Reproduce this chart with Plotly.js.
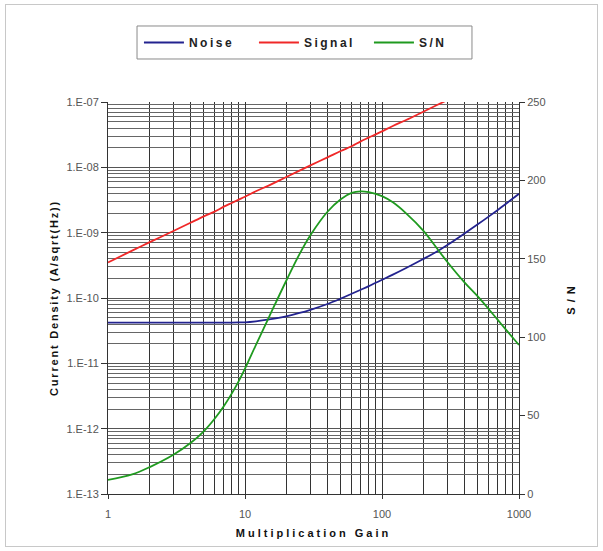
<!DOCTYPE html>
<html>
<head>
<meta charset="utf-8">
<script src="https://cdn.plot.ly/plotly-3.0.1.min.js"></script>
<style>
  body { margin: 0; background: #fff; }
  #wrap { position: relative; width: 603px; height: 551px; }
  #chart { position: absolute; left: 0; top: 0; width: 603px; height: 551px; }
  #frame { position: absolute; left: 5px; top: 4px; width: 591px; height: 541px; border: 1px solid #c8c8c8; pointer-events: none; }
  .legendtext { letter-spacing: 2.5px; }
  .xtitle { letter-spacing: 3px; }
  .ytitle { letter-spacing: 1.8px; }
  .y2title { letter-spacing: 5px; }
</style>
</head>
<body>
<div id="wrap">
  <div id="chart"></div>
  <div id="frame"></div>
</div>
<script>
// Multiplication gain (x)
const gain = [1, 1.5, 2, 3, 4, 5, 6, 7, 8, 9, 10, 12, 15, 20, 25, 30, 40, 50, 60, 70, 80,
              100, 120, 150, 200, 250, 300, 400, 500, 600, 700, 800, 1000];

// Noise current density (A/sqrt(Hz))
const noise = [4.2e-11, 4.2e-11, 4.2e-11, 4.2e-11, 4.2e-11, 4.2e-11, 4.2e-11, 4.2e-11, 4.21e-11, 4.23e-11, 4.25e-11,
               4.4e-11, 4.7e-11, 5.25e-11, 5.9e-11, 6.6e-11, 8.1e-11, 9.8e-11, 1.16e-10, 1.34e-10, 1.52e-10,
               1.9e-10, 2.28e-10, 2.88e-10, 3.95e-10, 5.1e-10, 6.47e-10, 9.7e-10, 1.34e-9, 1.76e-9, 2.23e-9, 2.75e-9, 3.93e-9];

// Signal current density (A/sqrt(Hz))
const signal = [3.5e-10, 5.3e-10, 7.1e-10, 1.06e-9, 1.42e-9, 1.78e-9, 2.1e-9, 2.5e-9, 2.85e-9, 3.2e-9, 3.55e-9,
                4.3e-9, 5.3e-9, 7.1e-9, 8.9e-9, 1.07e-8, 1.42e-8, 1.78e-8, 2.1e-8, 2.5e-8, 2.85e-8,
                3.55e-8, 4.3e-8, 5.3e-8, 7.1e-8, 8.9e-8, 1.07e-7, null, null, null, null, null, null];

// Signal-to-noise ratio (right axis)
const snr = [9, 12.5, 17, 25, 32.5, 40, 48, 56, 64, 72, 80,
             95, 113, 136, 153, 165, 180, 188, 192, 193, 192.5,
             190, 186, 179, 168, 157, 148, 135, 126, 118, 111, 105, 95];

// Tick labels
const xTickVals = [1, 10, 100, 1000];
const xTickText = ["1", "10", "100", "1000"];
const yTickVals = [1e-13, 1e-12, 1e-11, 1e-10, 1e-9, 1e-8, 1e-7];
const yTickText = ["1.E-13", "1.E-12", "1.E-11", "1.E-10", "1.E-09", "1.E-08", "1.E-07"];
const y2TickVals = [0, 50, 100, 150, 200, 250];

// minor grid positions (2..9 within each decade)
function minorLog(lo, hi) {
  const out = [];
  for (let e = lo; e < hi; e++) for (let k = 2; k <= 9; k++) out.push(k * Math.pow(10, e));
  return out;
}

const FONT = "Liberation Sans, Arial, sans-serif";

const traces = [
  { x: gain, y: noise, name: "Noise", type: "scatter", mode: "lines",
    line: { color: "#23238f", width: 1.8, shape: "spline" } },
  { x: gain, y: signal, name: "Signal", type: "scatter", mode: "lines",
    line: { color: "#f02828", width: 1.8, shape: "spline" } },
  { x: gain, y: snr, name: "S/N", type: "scatter", mode: "lines", yaxis: "y2",
    line: { color: "#1f9a1f", width: 1.8, shape: "spline" } }
];

const layout = {
  width: 603, height: 551,
  margin: { l: 108, r: 84, t: 102, b: 57 },
  paper_bgcolor: "#ffffff", plot_bgcolor: "#ffffff",
  font: { family: FONT, size: 11, color: "#555" },
  showlegend: true,
  legend: {
    orientation: "h", x: 0.495, xanchor: "center", y: 1.1518, yanchor: "middle",
    borderwidth: 0, bgcolor: "rgba(0,0,0,0)",
    font: { family: FONT, size: 12, color: "#222", weight: "bold" },
    itemwidth: 40, entrywidth: 60, traceorder: "normal"
  },
  shapes: [
    { type: "rect", xref: "paper", yref: "paper", x0: 0.0706, x1: 0.8856, y0: 1.1097, y1: 1.1939,
      line: { color: "#8a8a8a", width: 1 }, fillcolor: "rgba(0,0,0,0)", layer: "above" }
  ],
  xaxis: {
    type: "log", range: [0, 3], fixedrange: true,
    tickmode: "array", tickvals: xTickVals, ticktext: xTickText,
    ticks: "outside", ticklen: 4, tickcolor: "#333", ticklabelstandoff: 6,
    showgrid: true, gridcolor: "#333", gridwidth: 1,
    minor: { tickmode: "array", tickvals: minorLog(0, 3), showgrid: true, gridcolor: "#333", gridwidth: 1, ticks: "" },
    showline: true, linecolor: "#333", linewidth: 1, zeroline: false,
    tickfont: { family: FONT, size: 11, color: "#555" },
    title: { text: "Multiplication Gain", standoff: 10,
             font: { family: FONT, size: 11, color: "#111", weight: "bold" } }
  },
  yaxis: {
    type: "log", range: [-13, -7], fixedrange: true,
    tickmode: "array", tickvals: yTickVals, ticktext: yTickText,
    ticks: "outside", ticklen: 6, tickcolor: "#333",
    showgrid: true, gridcolor: "#555", gridwidth: 1,
    minor: { tickmode: "array", tickvals: minorLog(-13, -7), showgrid: true, gridcolor: "#666", gridwidth: 1, ticks: "" },
    showline: true, linecolor: "#333", linewidth: 1, zeroline: false,
    tickfont: { family: FONT, size: 11, color: "#555" },
    title: { text: "Current Density (A/sqrt(Hz))", standoff: 5,
             font: { family: FONT, size: 11, color: "#111", weight: "bold" } }
  },
  yaxis2: {
    overlaying: "y", side: "right", range: [0, 250], fixedrange: true,
    tickmode: "array", tickvals: y2TickVals,
    ticks: "outside", ticklen: 5, tickcolor: "#333",
    showgrid: false, zeroline: false,
    showline: true, linecolor: "#333", linewidth: 1,
    tickfont: { family: FONT, size: 11, color: "#555" },
    title: { text: "S/N", standoff: 22,
             font: { family: FONT, size: 11, color: "#111", weight: "bold" } }
  }
};

Plotly.newPlot("chart", traces, layout, { displayModeBar: false, staticPlot: true });
</script>
</body>
</html>
